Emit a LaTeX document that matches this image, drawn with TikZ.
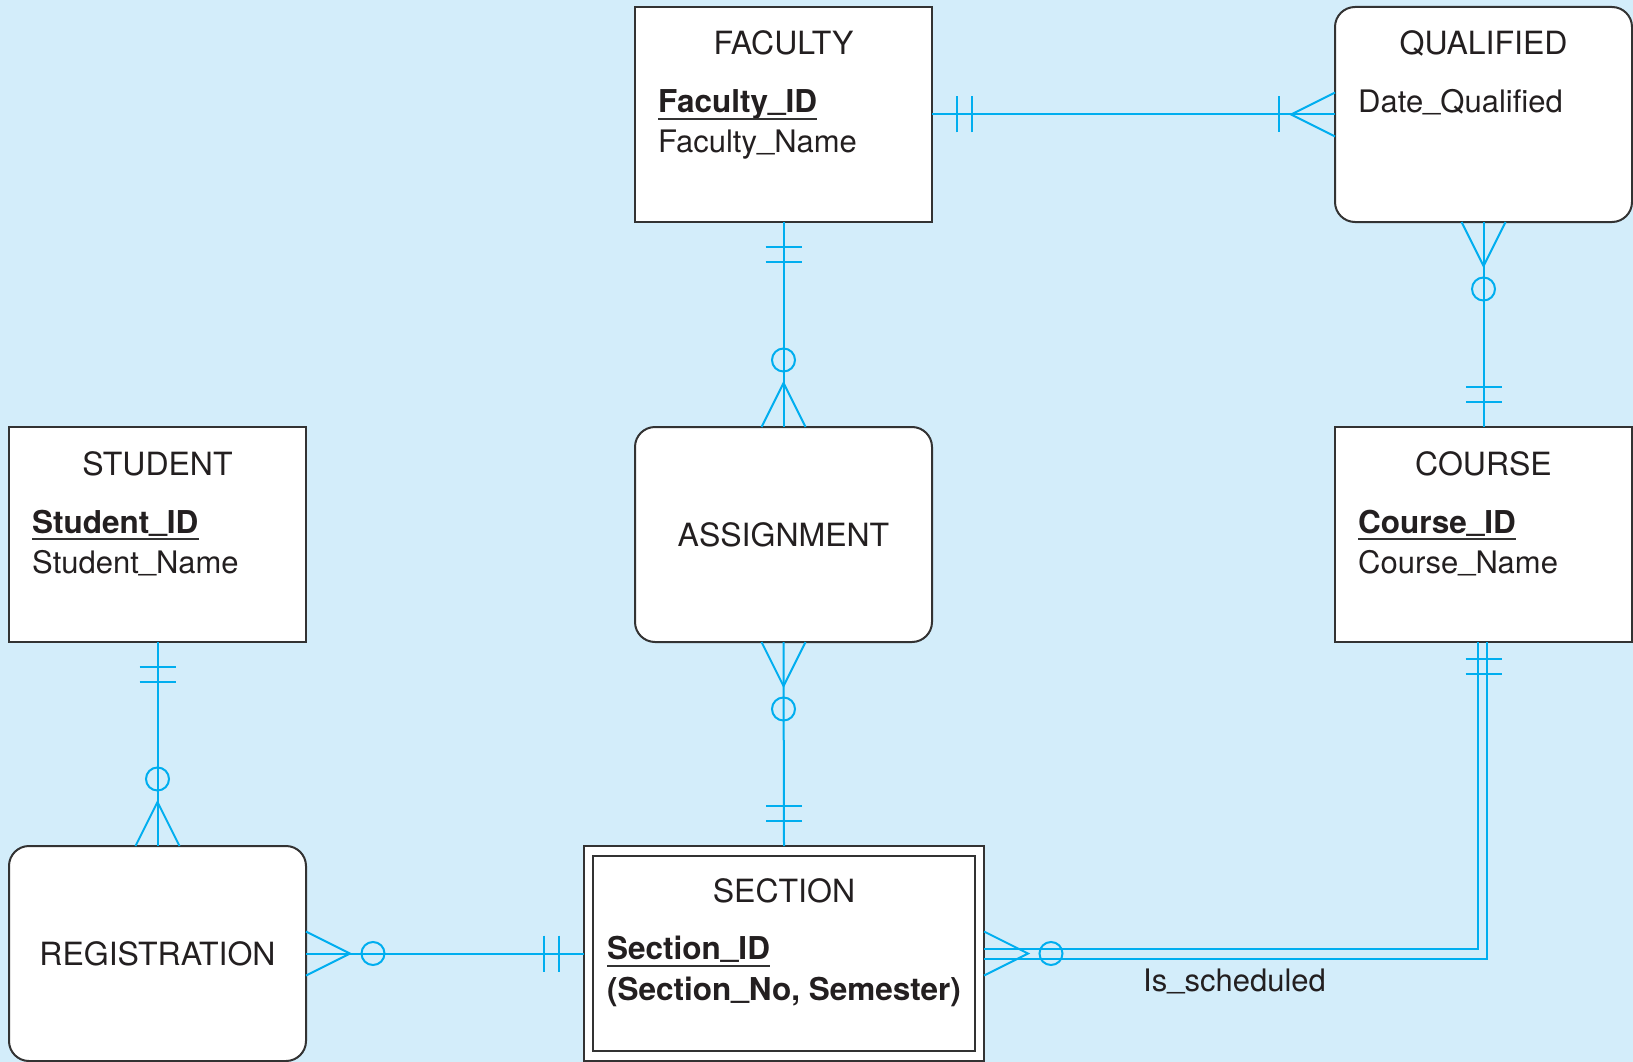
\documentclass[tikz,border=0pt]{standalone}
\usepackage{fontspec}
\setmainfont{TeX Gyre Heros}
\definecolor{bgblue}{RGB}{211,237,250}
\definecolor{erline}{RGB}{0,174,239}
\definecolor{boxline}{RGB}{51,51,51}
\definecolor{txt}{RGB}{35,31,32}
\newcommand{\usc}{\raisebox{3pt}{\_}}
\begin{document}
\begin{tikzpicture}[x=1pt,y=1pt,
  entity/.style={draw=boxline,line width=2pt,fill=white,minimum width=297pt,
    minimum height=215pt,inner sep=0pt,outer sep=0pt,anchor=north west,
    font=\fontsize{32}{38}\selectfont,text=txt},
  assoc/.style={entity,rounded corners=20pt},
  title/.style={anchor=base,inner sep=0pt,font=\fontsize{32}{38}\selectfont,text=txt},
  attr/.style={anchor=base west,inner sep=0pt,font=\fontsize{31}{37}\selectfont,text=txt},
  keyattr/.style={attr,font=\fontsize{31.5}{37}\selectfont\bfseries},
  uline/.style={draw=boxline,line width=1.5pt},
  conn/.style={draw=erline,line width=2pt},
  onemand/.pic={\draw[conn] (25,-18)--(25,18) (40,-18)--(40,18);},
  manyopt/.pic={\draw[conn] (0,-22)--(44,0)--(0,22); \draw[conn] (67,0) circle (11.5);},
  manymand/.pic={\draw[conn] (0,-22)--(44,0)--(0,22); \draw[conn] (56,-18)--(56,18);}
]
\useasboundingbox (0,0) rectangle (1633,-1062);
\fill[bgblue] (0,0) rectangle (1633,-1062);

% boxes
\node[entity] (fac) at (635,-7) {};
\node[assoc] (qual) at (1335,-7) {};
\node[entity] (stu) at (9,-427) {};
\node[assoc] (asg) at (635,-427) {ASSIGNMENT};
\node[entity] (crs) at (1335,-427) {};
\node[assoc] (reg) at (9,-846) {REGISTRATION};
\node[entity,minimum width=400pt] (sec) at (584,-846) {};
\draw[boxline,line width=2pt] ([shift={(9,-10)}]sec.north west) rectangle ([shift={(-9,10)}]sec.south east);

% FACULTY
\node[title] (facT) at ([yshift=-48pt]fac.north) {FACULTY};
\node[keyattr] (facK) at ([shift={(23pt,-106pt)}]fac.north west) {Faculty\usc ID};
\node[attr] (facN) at ([shift={(23pt,-146pt)}]fac.north west) {Faculty\usc Name};
\draw[uline] ([yshift=-6pt]facK.base west) -- ([yshift=-6pt]facK.base east);

% QUALIFIED
\node[title] (qualT) at ([yshift=-48pt]qual.north) {QUALIFIED};
\node[attr] (qualA) at ([shift={(23pt,-106pt)}]qual.north west) {Date\usc Qualified};

% STUDENT
\node[title] (stuT) at ([yshift=-48pt]stu.north) {STUDENT};
\node[keyattr] (stuK) at ([shift={(23pt,-106pt)}]stu.north west) {Student\usc ID};
\node[attr] (stuN) at ([shift={(23pt,-146pt)}]stu.north west) {Student\usc Name};
\draw[uline] ([yshift=-6pt]stuK.base west) -- ([yshift=-6pt]stuK.base east);

% COURSE
\node[title] (crsT) at ([yshift=-48pt]crs.north) {COURSE};
\node[keyattr] (crsK) at ([shift={(23pt,-106pt)}]crs.north west) {Course\usc ID};
\node[attr] (crsN) at ([shift={(23pt,-146pt)}]crs.north west) {Course\usc Name};
\draw[uline] ([yshift=-6pt]crsK.base west) -- ([yshift=-6pt]crsK.base east);

% SECTION
\node[title] (secT) at ([yshift=-56pt]sec.north) {SECTION};
\node[keyattr] (secK) at ([shift={(23pt,-113pt)}]sec.north west) {Section\usc ID};
\node[keyattr] (secN) at ([shift={(23pt,-154pt)}]sec.north west) {(Section\usc No, Semester)};
\draw[uline] ([yshift=-7pt]secK.base west) -- ([yshift=-7pt]secK.base east);

% connectors
\draw[conn] (fac.east) -- (qual.west);
\pic at (fac.east) {onemand};
\pic[rotate=180] at (qual.west) {manymand};

\draw[conn] (fac.south) -- (asg.north);
\pic[rotate=-90] at (fac.south) {onemand};
\pic[rotate=90] at (asg.north) {manyopt};

\draw[conn] (qual.south) -- (crs.north);
\pic[rotate=-90] at (qual.south) {manyopt};
\pic[rotate=90] at (crs.north) {onemand};

\draw[conn] (stu.south) -- (reg.north);
\pic[rotate=-90] at (stu.south) {onemand};
\pic[rotate=90] at (reg.north) {manyopt};

\draw[conn] (asg.south) -- (sec.north);
\pic[rotate=-90] at (asg.south) {manyopt};
\pic[rotate=90] at (sec.north) {onemand};

\draw[conn] (reg.east) -- (sec.west);
\pic at (reg.east) {manyopt};
\pic[rotate=180] at (sec.west) {onemand};

\draw[conn] ([yshift=5pt]sec.east) -| ([xshift=-6pt]crs.south);
\draw[conn] ([yshift=-5pt]sec.east) -| ([xshift=3pt]crs.south);
\pic at (sec.east) {manyopt};
\pic[rotate=-90] at ([yshift=8pt]crs.south) {onemand};
\node[attr] (sched) at (1143,-991) {Is\usc scheduled};
\end{tikzpicture}
\end{document}
